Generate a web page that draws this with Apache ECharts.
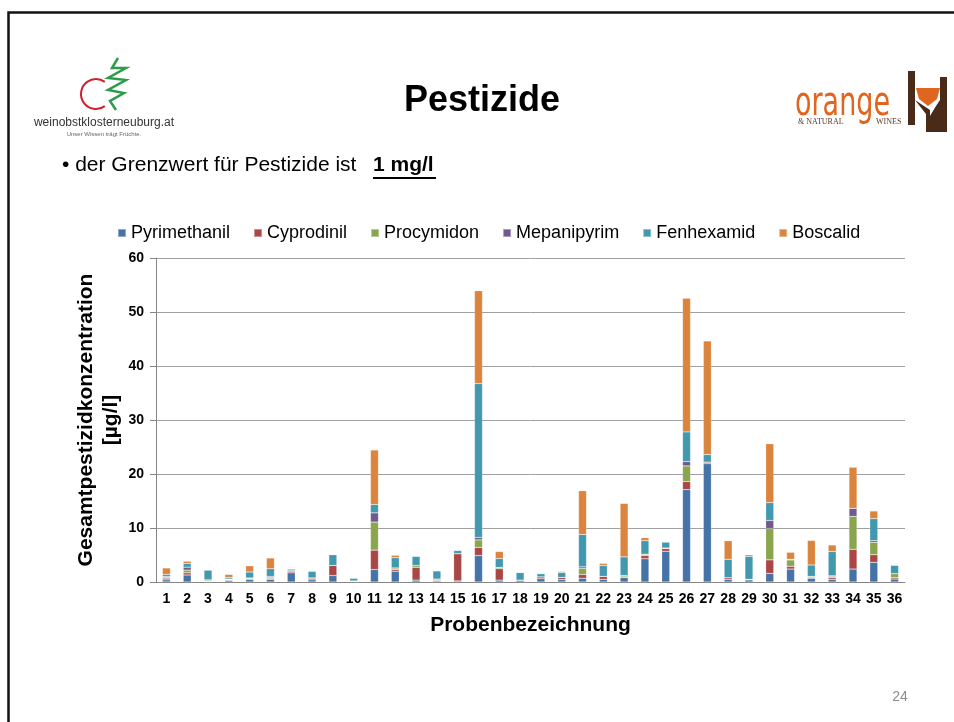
<!DOCTYPE html>
<html>
<head>
<meta charset="utf-8">
<script src="https://cdn.jsdelivr.net/npm/echarts@6/dist/echarts.min.js"></script>
<style>
  html, body { margin: 0; padding: 0; background: #fff; }
  #main { width: 954px; height: 722px; }
</style>
</head>
<body>
<div id="main"></div>
<script>
var myChart = echarts.init(document.getElementById('main'));

var samples = ['1','2','3','4','5','6','7','8','9','10','11','12','13','14','15','16','17','18',
               '19','20','21','22','23','24','25','26','27','28','29','30','31','32','33','34','35','36'];

var pyrimethanil = [0.4,1.3,0.1,0.3,0.45,0.5,1.7,0.4,1.2,0.1, 2.3,2.0,0.35,0.2,0.2,4.9,0.35,0.35,0.6,0.45,
                    0.7,0.5,0.8,4.3,5.7,17.1,21.9,0.5,0.4,1.6, 2.4,0.7,0.5,2.4,3.65,0.55];
var cyprodinil   = [0.3,0.4,0.1,0.1,0.15,0.15,0.3,0.3,1.85,0, 3.6,0.3,2.35,0.15,5.05,1.5,2.1,0,0.35,0.4,
                    0.7,0.55,0.15,0.6,0.5,1.5,0.3,0.3,0,2.5, 0.5,0.1,0.3,3.65,1.4,0.25];
var procymidon   = [0.2,0.5,0.2,0.1,0.15,0.2,0.1,0.05,0,0.1, 5.2,0.3,0.35,0.2,0,1.4,0.25,0,0,0,
                    1.1,0,0.25,0.25,0.1,2.9,0,0,0.1,5.8, 1.2,0.25,0.2,6.1,2.3,0.75];
var mepanipyrim  = [0.1,0.55,0,0.05,0,0.2,0,0,0,0, 1.7,0,0,0,0,0.45,0,0,0,0,
                    0.3,0,0,0,0,0.8,0,0,0,1.5, 0,0,0.15,1.5,0.3,0];
var fenhexamid   = [0.4,0.7,1.8,0.3,1.1,1.4,0.3,1.25,2.0,0.5, 1.55,1.9,1.7,1.5,0.6,28.5,1.65,1.4,0.6,0.9,
                    6.0,2.0,3.45,2.5,1.1,5.5,1.4,3.4,4.25,3.3, 0.1,2.1,4.5,0,4.1,1.55];
var boscalid     = [1.2,0.4,0.1,0.55,1.15,2.0,0,0,0.1,0, 10.1,0.45,0,0.1,0,17.2,1.3,0,0,0.2,
                    8.1,0.4,9.9,0.55,0,24.75,21.05,3.45,0.3,10.9, 1.3,4.55,1.2,7.6,1.4,0];

var seriesNames = ['Pyrimethanil', 'Cyprodinil', 'Procymidon', 'Mepanipyrim', 'Fenhexamid', 'Boscalid'];
var seriesData = [pyrimethanil, cyprodinil, procymidon, mepanipyrim, fenhexamid, boscalid];
var colors = ['#4572A7', '#AA4643', '#89A54E', '#71588F', '#4198AF', '#DB843D'];

var font = '"Liberation Sans", Arial, sans-serif';

var series = seriesNames.map(function (name, i) {
    return {
        name: name,
        type: 'bar',
        stack: 'total',
        barWidth: 8,
        data: seriesData[i],
        itemStyle: {
            color: colors[i],
            borderColor: 'rgba(255,255,255,0.4)',
            borderWidth: 0.5
        }
    };
});

option = {
    animation: false,
    color: colors,
    textStyle: { fontFamily: font },
    legend: {
        left: 112,
        top: 219,
        icon: 'rect',
        itemWidth: 8,
        itemHeight: 8,
        itemGap: 23,
        textStyle: { fontSize: 18, color: '#000', fontFamily: font }
    },
    grid: {
        left: 156,
        right: 49,
        top: 258,
        height: 324
    },
    xAxis: {
        type: 'category',
        data: samples,
        name: 'Probenbezeichnung',
        nameLocation: 'middle',
        nameGap: 33,
        nameMoveOverlap: false,
        nameTextStyle: { fontSize: 21, fontWeight: 'bold', color: '#000' },
        axisLine: { lineStyle: { color: '#868686' } },
        axisTick: { length: 5, lineStyle: { color: '#868686' } },
        axisLabel: { interval: 0, margin: 10, fontSize: 14, fontWeight: 'bold', color: '#000' }
    },
    yAxis: {
        type: 'value',
        min: 0,
        max: 60,
        interval: 10,
        name: 'Gesamtpestizidkonzentration\n[µg/l]',
        nameLocation: 'middle',
        nameGap: 32,
        nameMoveOverlap: false,
        nameTextStyle: { fontSize: 21, fontWeight: 'bold', color: '#000', lineHeight: 25 },
        axisLine: { show: true, lineStyle: { color: '#868686' } },
        axisTick: { show: true, length: 6, lineStyle: { color: '#868686' } },
        axisLabel: { margin: 12, fontSize: 14, fontWeight: 'bold', color: '#000' },
        splitLine: { lineStyle: { color: '#a0a0a0' } }
    },
    graphic: [
        // slide frame
        { type: 'rect', shape: { x: 8.5, y: 12.5, width: 980, height: 760 },
          style: { fill: 'none', stroke: '#111', lineWidth: 2.5 }, silent: true },
        // title
        { type: 'text', style: { x: 482, y: 101, text: 'Pestizide', font: 'bold 36px ' + font,
          fill: '#000', textAlign: 'center', textVerticalAlign: 'middle' } },
        // bullet line
        { type: 'text', style: { x: 62, y: 165, text: '• der Grenzwert für Pestizide ist',
          font: '21px ' + font, fill: '#000', textVerticalAlign: 'middle' } },
        { type: 'text', style: { x: 373, y: 165, text: '1 mg/l',
          font: 'bold 21px ' + font, fill: '#000', textVerticalAlign: 'middle' } },
        { type: 'line', shape: { x1: 373, y1: 178, x2: 436, y2: 178 },
          style: { stroke: '#000', lineWidth: 2 } },
        // left logo
        { type: 'arc', shape: { cx: 96, cy: 94, r: 15, startAngle: Math.PI * 0.3, endAngle: Math.PI * 1.7, clockwise: true },
          style: { stroke: '#D0202E', lineWidth: 2, fill: 'none' } },
        { type: 'polyline', shape: { points: [[118, 58], [112, 68], [126, 68], [108, 78], [126, 80], [108, 90], [124, 93], [110, 101], [116, 110]] },
          style: { stroke: '#2E9B4A', lineWidth: 2.5, fill: 'none' } },
        { type: 'text', style: { x: 104, y: 123, text: 'weinobstklosterneuburg.at', font: '12px ' + font,
          fill: '#333', textAlign: 'center', textVerticalAlign: 'middle' } },
        { type: 'text', style: { x: 104, y: 134, text: 'Unser Wissen trägt Früchte.', font: '6px ' + font,
          fill: '#666', textAlign: 'center', textVerticalAlign: 'middle' } },
        // right logo
        { type: 'text', x: 795, y: 104, scaleY: 1.35,
          style: { x: 0, y: 0, text: 'orange', font: '30px "DejaVu Sans Condensed", "Liberation Sans Narrow", sans-serif',
          fill: '#E0651E', textVerticalAlign: 'middle' } },
        { type: 'text', style: { x: 798, y: 122, text: '& NATURAL', font: '8px "Liberation Serif", serif',
          fill: '#5a3a2a', textVerticalAlign: 'middle' } },
        { type: 'text', style: { x: 876, y: 122, text: 'WINES', font: '8px "Liberation Serif", serif',
          fill: '#5a3a2a', textVerticalAlign: 'middle' } },
        { type: 'rect', shape: { x: 908, y: 71, width: 7, height: 54 }, style: { fill: '#4A2A18' } },
        { type: 'rect', shape: { x: 940, y: 77, width: 7, height: 55 }, style: { fill: '#4A2A18' } },
        { type: 'polygon', shape: { points: [[915, 100], [926, 114], [926, 132], [940, 132], [940, 100], [936, 106], [930, 116], [930, 110]] },
          style: { fill: '#4A2A18' } },
        { type: 'polygon', shape: { points: [[916, 88], [940, 88], [937, 99], [928, 106], [919, 99]] },
          style: { fill: '#E0651E' } },
        // page number
        { type: 'text', style: { x: 900, y: 697, text: '24', font: '14px ' + font,
          fill: '#8c8c8c', textAlign: 'center', textVerticalAlign: 'middle' } }
    ],
    series: series
};

myChart.setOption(option);
</script>
</body>
</html>
